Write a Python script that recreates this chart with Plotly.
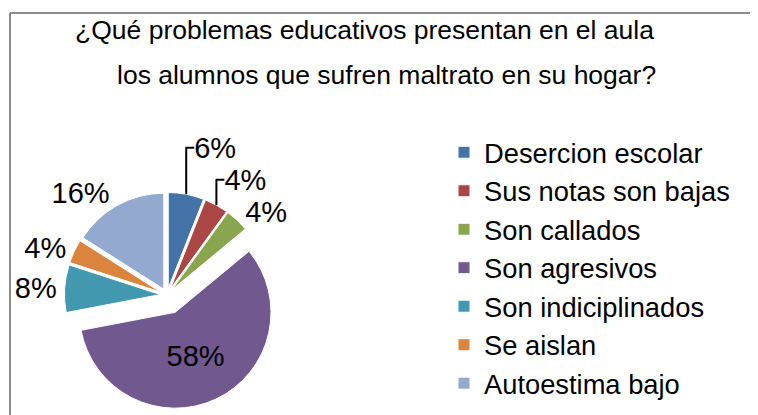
import plotly.graph_objects as go

# ---- data ----
categories = ["Desercion escolar", "Sus notas son bajas", "Son callados",
              "Son agresivos", "Son indiciplinados", "Se aislan", "Autoestima bajo"]
values = [6, 4, 4, 58, 8, 4, 16]
colors = ["#4572A7", "#AA4643", "#89A54E", "#71588F", "#4198AF", "#DB843D", "#93A9CF"]
pulls = [0.07, 0.07, 0.07, 0.2, 0.07, 0.07, 0.07]
label_positions = ["outside", "outside", "outside", "inside", "outside", "outside", "outside"]
title_line1 = "¿Qué problemas educativos presentan en el aula"
title_line2 = "los alumnos que sufren maltrato en su hogar?"

OFF = 8  # page body margin offset
W, H = 758 - OFF, 415 - OFF  # figure fits the window without scrollbars
FONT = "Liberation Sans, Arial, sans-serif"

def px(x):
    return (x - OFF) / W

def py(y):
    return (H - (y - OFF)) / H

fig = go.Figure(go.Pie(
    labels=categories,
    values=values,
    marker=dict(colors=colors, line=dict(color="white", width=1)),
    pull=pulls,
    sort=False,
    direction="clockwise",
    rotation=0,
    textinfo="percent",
    textposition=label_positions,
    textfont=dict(family=FONT, size=29, color="black"),
    insidetextfont=dict(family=FONT, size=29, color="black"),
    outsidetextfont=dict(family=FONT, size=29, color="black"),
    domain=dict(x=[px(51), px(283)], y=[py(410), py(180)]),
    showlegend=True,
    automargin=False,
    hoverinfo="label+percent",
))

border = dict(color="#8C8C8C", width=2)

fig.update_layout(
    width=W, height=H,
    autosize=False,
    margin=dict(l=0, r=0, t=0, b=0, pad=0, autoexpand=False),
    paper_bgcolor="white",
    plot_bgcolor="white",
    font=dict(family=FONT, color="black"),
    legend=dict(
        x=px(444), y=py(128), xanchor="left", yanchor="top",
        font=dict(family=FONT, size=27.3, color="black"),
        bgcolor="rgba(0,0,0,0)",
        itemwidth=30,
    ),
    annotations=[
        dict(text=title_line1, x=px(364), y=py(30), xref="paper", yref="paper",
             xanchor="center", yanchor="middle", showarrow=False,
             font=dict(family=FONT, size=26.5, color="black")),
        dict(text=title_line2, x=px(386), y=py(75), xref="paper", yref="paper",
             xanchor="center", yanchor="middle", showarrow=False,
             font=dict(family=FONT, size=26.5, color="black")),
    ],
    shapes=[
        dict(type="line", xref="paper", yref="paper",
             x0=px(10), x1=px(800), y0=py(13), y1=py(13),
             line=border, layer="below"),
        dict(type="line", xref="paper", yref="paper",
             x0=px(10), x1=px(10), y0=py(13), y1=py(460),
             line=border, layer="below"),
    ],
)

fig.write_html("out.html", config={"responsive": False})
